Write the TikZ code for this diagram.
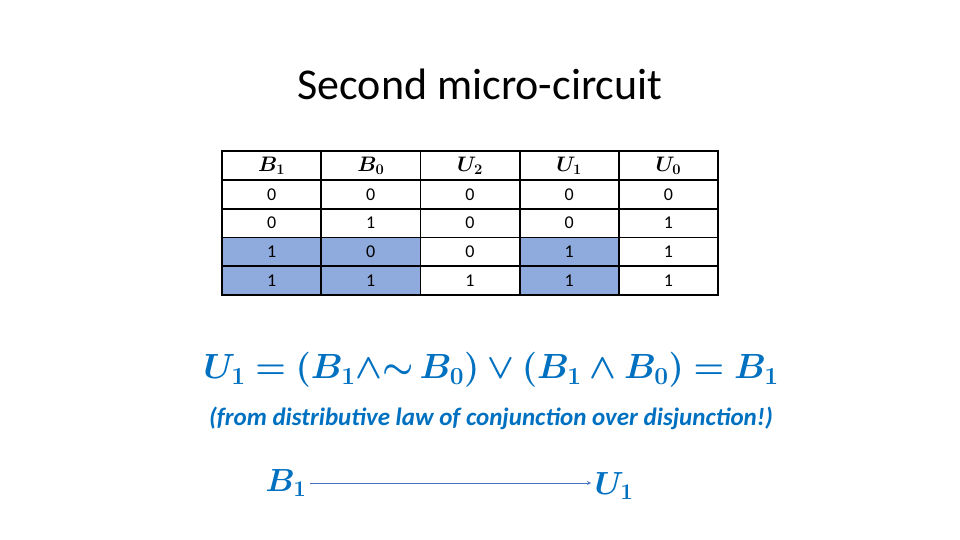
\RequirePackage{fix-cm}
\documentclass[tikz,border=0pt]{standalone}
\usepackage{fontspec}
\usepackage{amsmath,bm}
\setmainfont{Carlito}
\usetikzlibrary{positioning}
\definecolor{eqblue}{RGB}{0,112,192}
\definecolor{cellblue}{RGB}{143,170,220}
\definecolor{arrowblue}{RGB}{68,114,196}
\newcommand{\cellsize}{\fontsize{18}{18}\selectfont}
\newcommand{\headsize}{\fontsize{21}{21}\selectfont}
\begin{document}
\begin{tikzpicture}[x=1pt, y=-1pt,
    cell/.style={draw, line width=1.6pt, minimum width=99pt, minimum height=29pt, inner sep=0pt},
    hicell/.style={cell, fill=cellblue},
    head/.style={cell},
    eqtext/.style={text=eqblue},
    arrow/.style={->, >=stealth, arrowblue, thick}
]
\useasboundingbox (0,0) rectangle (960,540);

% Title
\node (title) at (480,84) {\fontsize{44}{44}\selectfont Second micro-circuit};

% Header row
\foreach \name [count=\c] in {B_1,B_0,U_2,U_1,U_0}
  \node[head] (h\c) at ({222+99.2*(\c-0.5)},165.5) {\headsize$\bm{\name}$};

% Body rows
\foreach \a/\b/\cc/\d/\e [count=\r] in {0/0/0/0/0, 0/1/0/0/1, 1/0/0/1/1, 1/1/1/1/1} {
  \ifnum\r>2 \def\hs{hicell}\else\def\hs{cell}\fi
  \node[\hs] (c\r1) at ({222+99.2*0.5},{180+28.75*(\r-0.5)}) {\cellsize\a};
  \node[\hs] (c\r2) at ({222+99.2*1.5},{180+28.75*(\r-0.5)}) {\cellsize\b};
  \node[cell] (c\r3) at ({222+99.2*2.5},{180+28.75*(\r-0.5)}) {\cellsize\cc};
  \node[\hs] (c\r4) at ({222+99.2*3.5},{180+28.75*(\r-0.5)}) {\cellsize\d};
  \node[cell] (c\r5) at ({222+99.2*4.5},{180+28.75*(\r-0.5)}) {\cellsize\e};
}

% Equation and remark
\node[eqtext] (eq) at (491,370) {\fontsize{35}{35}\selectfont
  $\bm{U_1=(B_1{\wedge}{\sim}\,B_0)\vee(B_1\wedge B_0)=B_1}$};
\node[eqtext] (note) at (491,418) {\fontsize{25}{25}\selectfont\bfseries\itshape
  (from distributive law of conjunction over disjunction!)};

% Micro-circuit
\node[eqtext] (b1) at (286,483) {\fontsize{32}{32}\selectfont$\bm{B_1}$};
\node[eqtext] (u1) at (614,486) {\fontsize{32}{32}\selectfont$\bm{U_1}$};
\draw[arrow] (b1) -- (b1 -| u1.west);
\end{tikzpicture}
\end{document}
